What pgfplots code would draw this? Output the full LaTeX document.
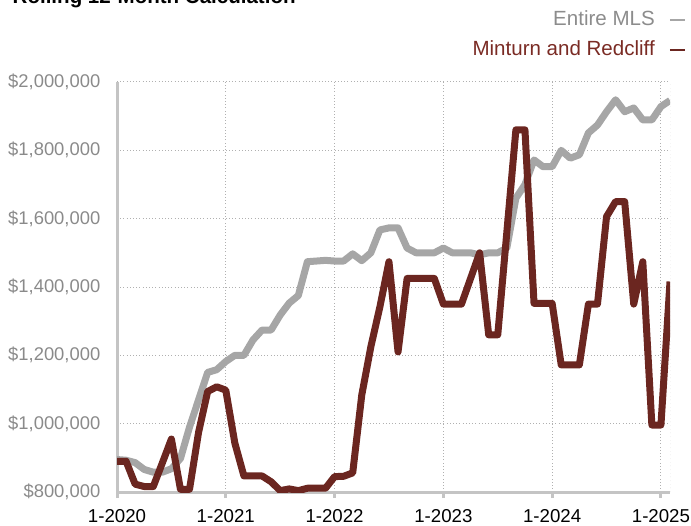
\documentclass[border=0pt]{standalone}
\usepackage{pgfplots}
\pgfplotsset{compat=1.18}
\usepackage{fontspec}
\setmainfont{Liberation Sans}
\definecolor{mlsgray}{HTML}{A6A6A6}
\definecolor{mrred}{HTML}{6B2620}
\definecolor{axgray}{HTML}{C4C4C4}
\definecolor{gridgray}{HTML}{B0B0B0}
\definecolor{labgray}{HTML}{8A8A8A}
\definecolor{leggray}{HTML}{8C8C8C}
\definecolor{legred}{HTML}{7A2B24}

\pgfplotstableread{
m v
0 895000
1 893000
2 886000
3 866000
4 858000
5 858000
6 868000
7 898000
8 990000
9 1070000
10 1150000
11 1158000
12 1182000
13 1200000
14 1200000
15 1245000
16 1274000
17 1274000
18 1318000
19 1353000
20 1375000
21 1474000
22 1476000
23 1478000
24 1476000
25 1476000
26 1497000
27 1477000
28 1500000
29 1567000
30 1573000
31 1573000
32 1514000
33 1500000
34 1500000
35 1500000
36 1514000
37 1500000
38 1500000
39 1500000
40 1494000
41 1500000
42 1500000
43 1514000
44 1660000
45 1700000
46 1772000
47 1752000
48 1752000
49 1800000
50 1777000
51 1787000
52 1851000
53 1874000
54 1913000
55 1948000
56 1913000
57 1924000
58 1889000
59 1889000
60 1928000
61 1946000
}\mlstable

\pgfplotstableread{
m v
0 890000
1 890000
2 823000
3 816000
4 816000
5 885000
6 955000
7 808000
8 808000
9 975000
10 1094000
11 1108000
12 1098000
13 943000
14 847000
15 847000
16 847000
17 830000
18 804000
19 809000
20 804000
21 811000
22 811000
23 811000
24 845000
25 846000
26 856000
27 1084000
28 1225000
29 1342000
30 1474000
31 1210000
32 1425000
33 1425000
34 1425000
35 1425000
36 1350000
37 1350000
38 1350000
39 1425000
40 1500000
41 1260000
42 1260000
43 1560000
44 1860000
45 1860000
46 1352000
47 1352000
48 1352000
49 1172000
50 1172000
51 1172000
52 1350000
53 1350000
54 1606000
55 1650000
56 1650000
57 1350000
58 1474000
59 996000
60 996000
61 1416000
}\mrtable

\begin{document}
\begin{tikzpicture}
\begin{axis}[
  at={(87.75pt,24.75pt)}, anchor=south west,
  scale only axis, width=414.75pt, height=307.5pt,
  xmin=0, xmax=61, ymin=800000, ymax=2000000,
  axis x line*=bottom, axis y line*=left,
  axis line style={draw=axgray, line width=2.25pt},
  xtick={0,12,24,36,48,60},
  xticklabels={1-2020,1-2021,1-2022,1-2023,1-2024,1-2025},
  ytick={800000,1000000,1200000,1400000,1600000,1800000,2000000},
  yticklabels={{\$800,000},{\$1,000,000},{\$1,200,000},{\$1,400,000},{\$1,600,000},{\$1,800,000},{\$2,000,000}},
  scaled y ticks=false,
  grid=major,
  major grid style={draw=gridgray, dotted, line width=0.75pt},
  tick align=outside,
  major tick length=4.5pt,
  xtick style={draw=axgray, line width=2.25pt},
  ytick style={draw=none},
  x tick label style={font=\fontsize{14}{16}\selectfont, text=black, yshift=-5pt},
  y tick label style={font=\fontsize{13.8}{16}\selectfont, text=labgray, xshift=-4.5pt},
  legend plot pos=right,
  legend cell align=right,
  legend image code/.code={\path[draw=none,fill=none] (0pt,-2pt) rectangle (22.5pt,2pt);
    \draw[#1, line width=1.5pt] (11.25pt,0pt) -- (22.5pt,0pt);},
  legend style={at={(axis description cs:1.029,1.175)}, anchor=north east,
    draw=none, fill=none, font=\fontsize{15.4}{18}\selectfont,
    row sep=8pt, column sep=0pt, inner sep=0pt,
    nodes={inner sep=0pt, text height=11pt, text depth=3.5pt}},
]
\addplot[color=mlsgray, line width=5.25pt, line join=round] table[x=m,y=v] {\mlstable};
\addlegendentry{\textcolor{leggray}{Entire MLS}}
\addplot[color=mrred, line width=5.25pt, line join=round] table[x=m,y=v] {\mrtable};
\addlegendentry{\textcolor{legred}{Minturn and Redcliff}}
\draw[gridgray, dotted, line width=0.75pt] (rel axis cs:1,0) -- (rel axis cs:1,1);
\end{axis}
\node[anchor=base west, font=\bfseries\fontsize{15.4}{18}\selectfont] at (6pt,390.75pt) {Rolling 12-Month Calculation};
\pgfresetboundingbox
\useasboundingbox (0,0) rectangle (518.25pt,393.75pt);
\end{tikzpicture}
\end{document}
